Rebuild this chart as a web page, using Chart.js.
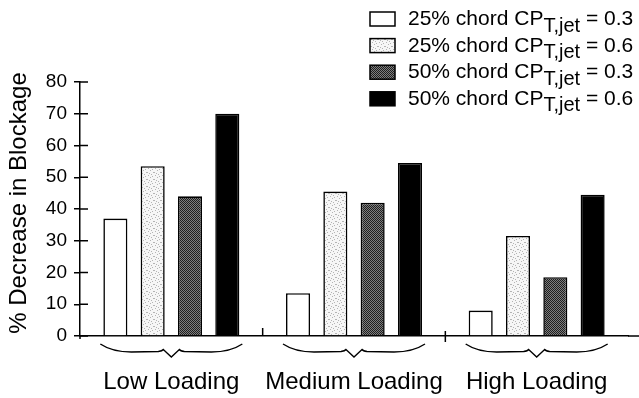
<!DOCTYPE html>
<html>
<head>
<meta charset="utf-8">
<script src="https://cdn.jsdelivr.net/npm/chart.js@4/dist/chart.umd.min.js"></script>
<style>
  html, body { margin: 0; padding: 0; background: #fff; }
  #wrap { width: 639px; height: 398px; position: relative; }
</style>
</head>
<body>
<div id="wrap"><canvas id="chart"></canvas></div>
<script>
// Loading conditions along the x axis
const loadings = ['Low Loading', 'Medium Loading', 'High Loading'];

// % decrease in blockage for each jet configuration
const chord25Cp03 = [37, 13.5, 8];
const chord25Cp06 = [53.5, 45.5, 31.5];
const chord50Cp03 = [44, 42, 18.5];
const chord50Cp06 = [70, 54.5, 44.5];

// Legend text pieces: chord position and jet momentum coefficient
const chordPositions = ['25%', '25%', '50%', '50%'];
const jetCoefficients = ['0.3', '0.6', '0.3', '0.6'];

// Value axis range and title
const yMin = 0;
const yMax = 80;
const yStep = 10;
const yTitle = '% Decrease in Blockage';

const FONT = '"Liberation Sans", Arial, Helvetica, sans-serif';

// Stippled fills resembling a halftone print
function makePattern(size, base, dots, dotColor) {
  const c = document.createElement('canvas');
  c.width = size; c.height = size;
  const g = c.getContext('2d');
  g.fillStyle = base;
  g.fillRect(0, 0, size, size);
  g.fillStyle = dotColor;
  dots.forEach(([x, y]) => g.fillRect(x, y, 1, 1));
  return g.createPattern(c, 'repeat');
}
const lightFill = makePattern(7, '#f6f6f6',
  [[1, 0], [5, 1], [3, 2], [0, 4], [6, 4], [2, 5], [4, 6]], '#b4b4b4');
const darkFill = makePattern(2, '#7e7e7e', [[0, 0], [1, 1]], '#1e1e1e');

const fills = ['#ffffff', lightFill, darkFill, '#000000'];
const seriesValues = [chord25Cp03, chord25Cp06, chord50Cp03, chord50Cp06];

const datasets = seriesValues.map((vals, i) => ({
  label: chordPositions[i] + ' chord CPT,jet = ' + jetCoefficients[i],
  data: vals,
  backgroundColor: fills[i],
  borderColor: '#000000',
  borderWidth: 1.6,
  borderSkipped: 'bottom',
  categoryPercentage: 0.817,
  barPercentage: 0.645
}));

// Axis decorations: crossing y ticks, group separators, braces, legend, y title
const decorations = {
  id: 'decorations',
  afterDraw(chart) {
    const ctx = chart.ctx;
    const area = chart.chartArea;
    const xs = chart.scales.x;
    const ys = chart.scales.y;
    ctx.save();
    ctx.strokeStyle = '#000';
    ctx.lineWidth = 1.5;

    // inner half of the y tick marks
    ys.ticks.forEach(t => {
      const y = ys.getPixelForValue(t.value);
      ctx.beginPath();
      ctx.moveTo(area.left, y);
      ctx.lineTo(area.left + 8, y);
      ctx.stroke();
    });
    // y axis runs slightly below the baseline
    ctx.beginPath();
    ctx.moveTo(area.left, area.bottom);
    ctx.lineTo(area.left, area.bottom + 3);
    ctx.stroke();

    // baseline continues to the right edge
    ctx.beginPath();
    ctx.moveTo(area.right, area.bottom);
    ctx.lineTo(chart.width, area.bottom);
    ctx.stroke();

    // separators between loading groups
    for (let i = 0; i < loadings.length - 1; i++) {
      const x = (xs.getPixelForValue(i) + xs.getPixelForValue(i + 1)) / 2;
      ctx.beginPath();
      if (i === 0) {
        ctx.moveTo(x, area.bottom - 8);
        ctx.lineTo(x, area.bottom);
      } else {
        ctx.moveTo(x, area.bottom - 5);
        ctx.lineTo(x, area.bottom + 6);
      }
      ctx.stroke();
    }

    // curly braces under each group
    ctx.lineWidth = 1.4;
    loadings.forEach((_, i) => {
      const cx = xs.getPixelForValue(i);
      const y0 = area.bottom + 8;
      const hw = 71;
      ctx.beginPath();
      ctx.moveTo(cx - hw, y0);
      ctx.quadraticCurveTo(cx - hw + 12, y0 + 8, cx - 40, y0 + 8);
      ctx.lineTo(cx - 13, y0 + 7.5);
      ctx.quadraticCurveTo(cx - 9, y0 + 7, cx - 8, y0 + 5.5);
      ctx.lineTo(cx, y0 + 13);
      ctx.lineTo(cx + 8, y0 + 5.5);
      ctx.quadraticCurveTo(cx + 9, y0 + 7, cx + 13, y0 + 7.5);
      ctx.lineTo(cx + 40, y0 + 8);
      ctx.quadraticCurveTo(cx + hw - 12, y0 + 8, cx + hw, y0);
      ctx.stroke();
    });

    // legend with subscripted coefficient
    const boxX = 370, textX = 408;
    chart.data.datasets.forEach((ds, i) => {
      const base = 25 + i * 26.6;
      ctx.fillStyle = ds.backgroundColor;
      ctx.fillRect(boxX, base - 13, 25, 14);
      ctx.lineWidth = 1.5;
      ctx.strokeStyle = '#000';
      ctx.strokeRect(boxX, base - 13, 25, 14);

      ctx.fillStyle = '#000';
      ctx.textBaseline = 'alphabetic';
      ctx.textAlign = 'left';
      let x = textX;
      ctx.font = '21px ' + FONT;
      const main = chordPositions[i] + ' chord CP';
      ctx.fillText(main, x, base);
      x += ctx.measureText(main).width;
      ctx.font = '20px ' + FONT;
      ctx.fillText('T,jet', x, base + 6.5);
      x += ctx.measureText('T,jet').width;
      ctx.font = '21px ' + FONT;
      ctx.fillText(' = ' + jetCoefficients[i], x, base);
    });

    // rotated value-axis title
    ctx.translate(19, 203);
    ctx.rotate(-Math.PI / 2);
    ctx.font = '24px ' + FONT;
    ctx.fillStyle = '#000';
    ctx.textAlign = 'center';
    ctx.textBaseline = 'middle';
    ctx.fillText(yTitle, 0, 0);
    ctx.restore();
  }
};

new Chart(document.getElementById('chart'), {
  type: 'bar',
  data: { labels: loadings, datasets },
  options: {
    responsive: true,
    maintainAspectRatio: false,
    animation: false,
    layout: { padding: { top: 82, right: 11, left: 0, bottom: 0 } },
    plugins: {
      legend: { display: false },
      tooltip: { enabled: false }
    },
    scales: {
      x: {
        type: 'category',
        offset: true,
        grid: { display: false },
        border: { display: true, color: '#000', width: 1.5 },
        ticks: {
          color: '#000',
          font: { family: FONT, size: 24 },
          padding: 24,
          maxRotation: 0
        },
        afterFit(scale) { scale.height = 62; }
      },
      y: {
        min: yMin,
        max: yMax,
        ticks: {
          stepSize: yStep,
          color: '#000',
          font: { family: FONT, size: 19 },
          padding: 7
        },
        grid: {
          display: true,
          drawOnChartArea: false,
          drawTicks: true,
          tickLength: 6,
          color: '#000',
          lineWidth: 1.5
        },
        border: { display: true, color: '#000', width: 1.5 },
        afterFit(scale) { scale.width = 80; }
      }
    }
  },
  plugins: [decorations]
});
</script>
</body>
</html>
